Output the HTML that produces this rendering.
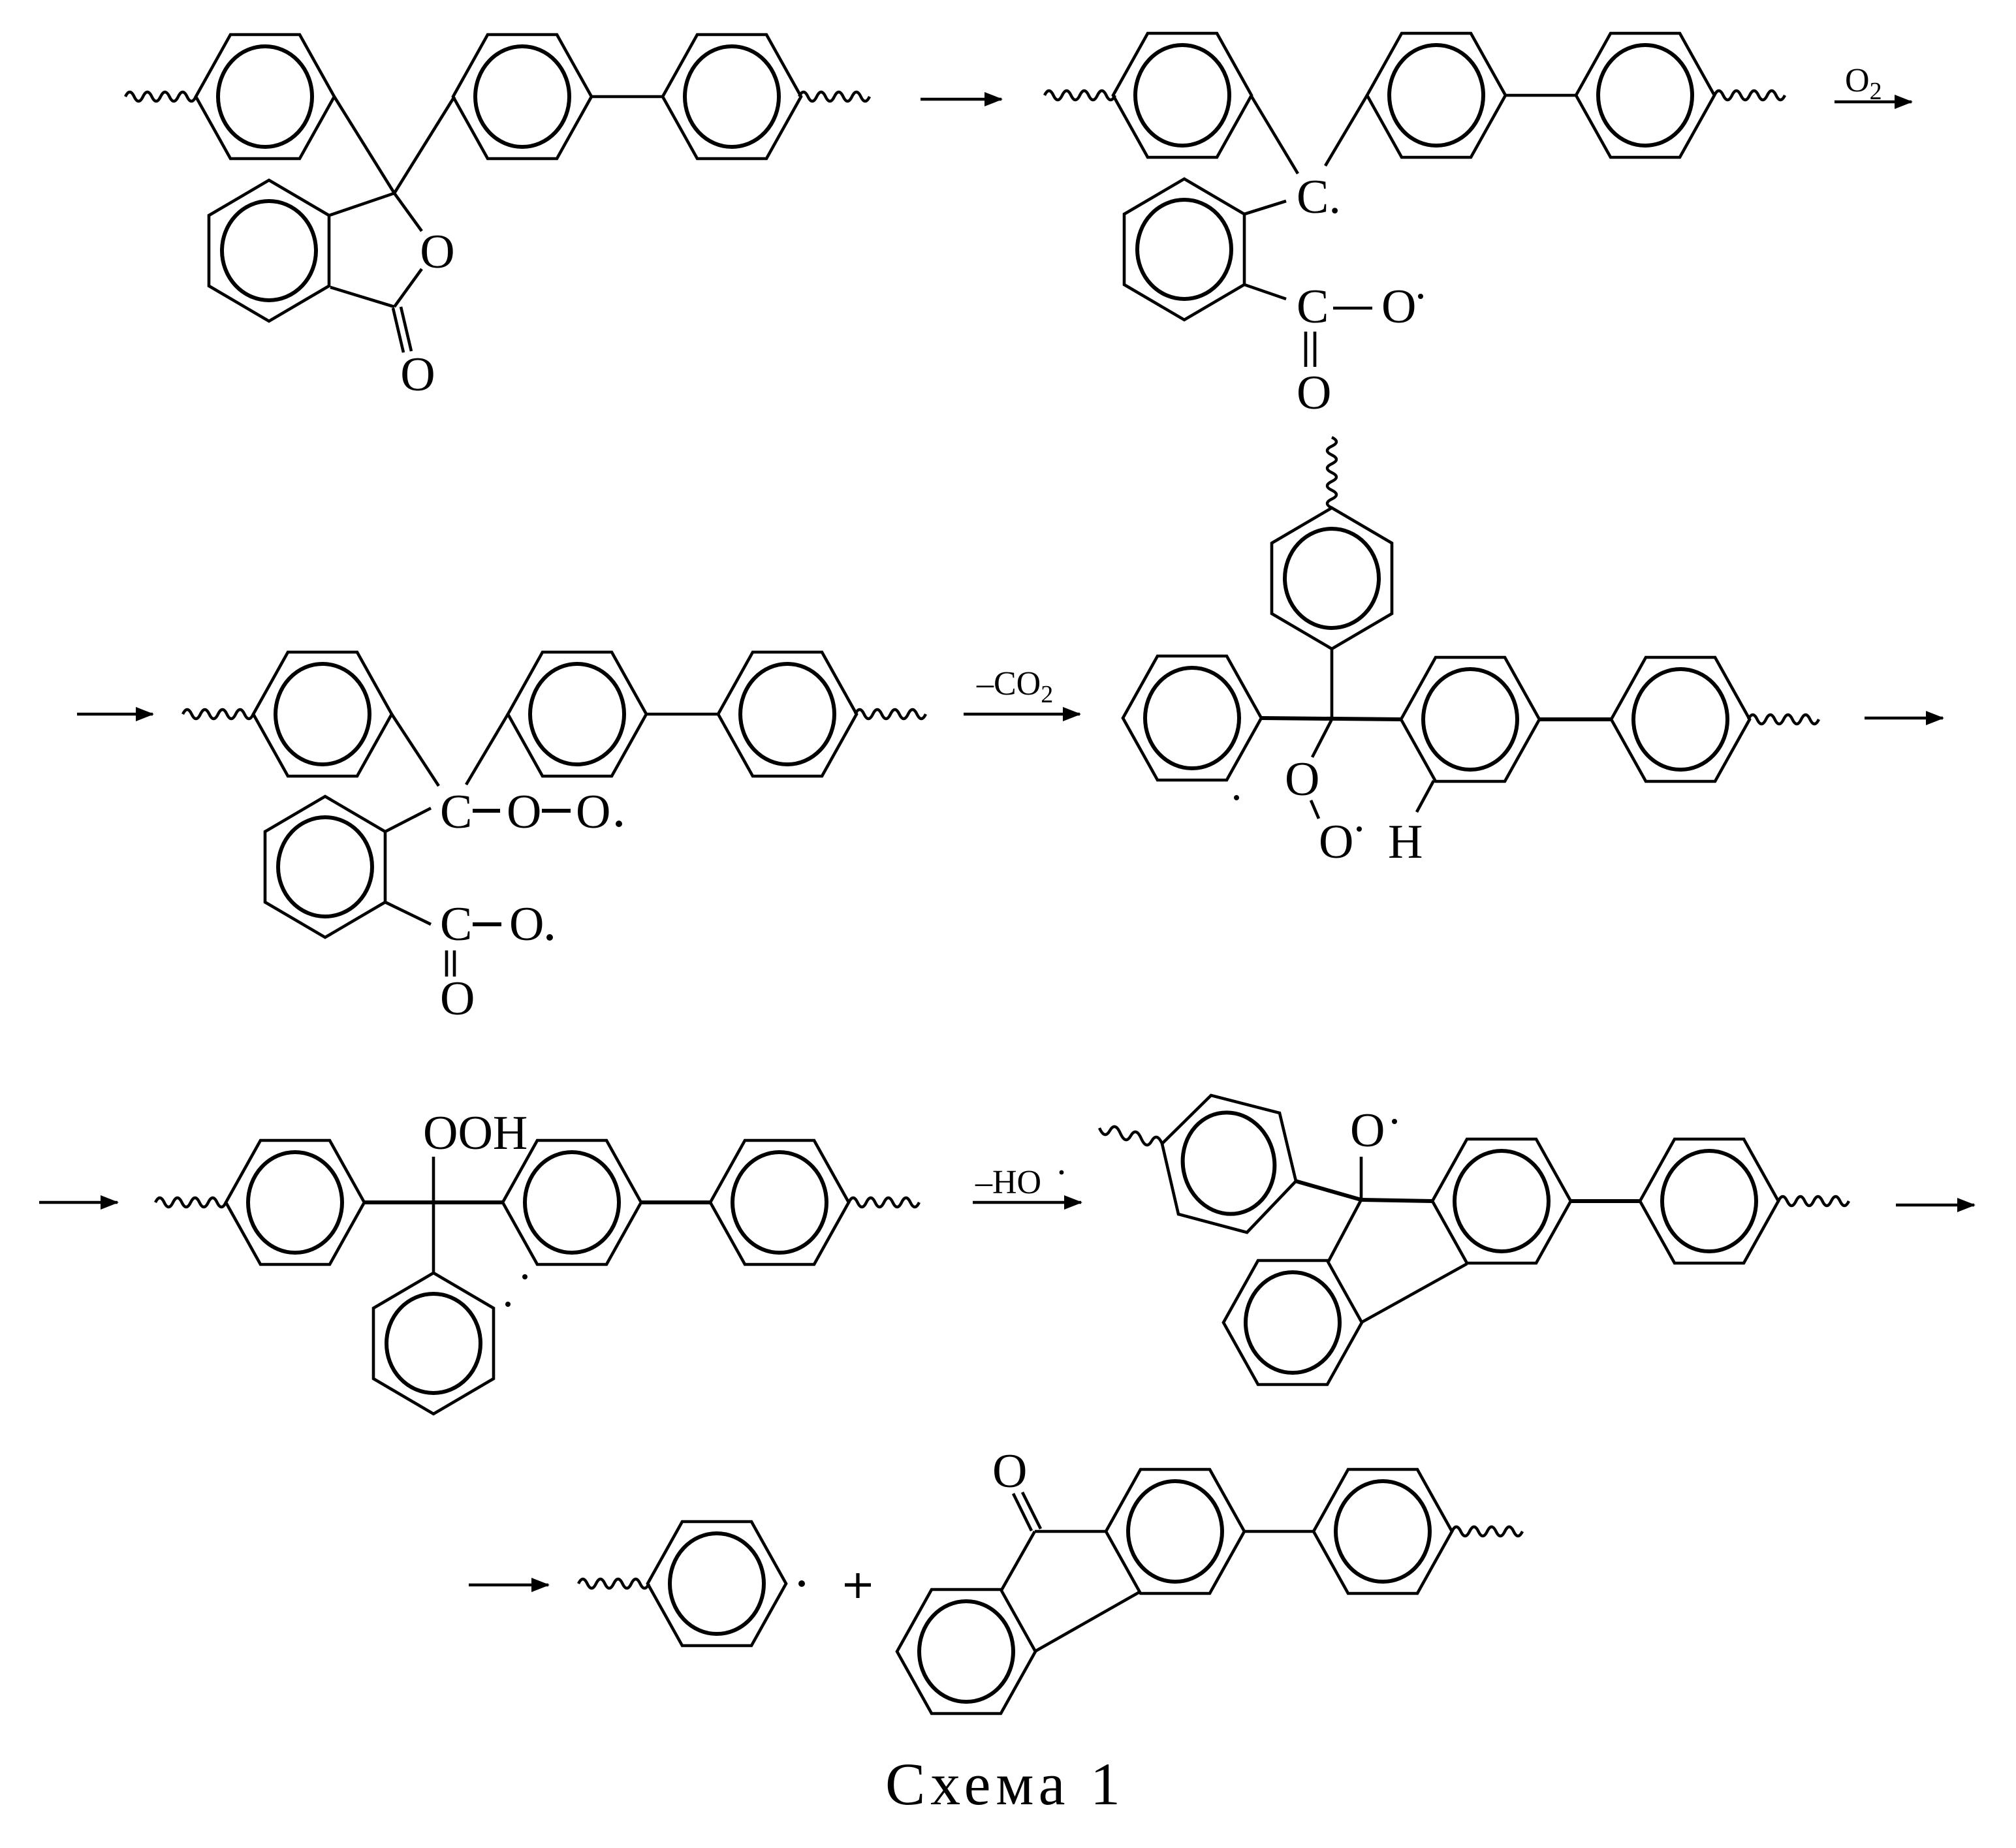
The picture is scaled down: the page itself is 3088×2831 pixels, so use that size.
<!DOCTYPE html>
<html><head><meta charset="utf-8"><style>
html,body{margin:0;padding:0;background:#fff;}
svg{display:block;}
text{font-family:"Liberation Serif",serif;fill:#000;}
</style></head><body>
<svg width="3088" height="2831" viewBox="0 0 1544 1415.5" xmlns="http://www.w3.org/2000/svg">
<defs>
<g id="rf"><polygon points="-53,0 -26.5,-47.5 26.5,-47.5 53,0 26.5,47.5 -26.5,47.5" fill="none" stroke="#000" stroke-width="2.3"/><ellipse cx="0" cy="0" rx="36" ry="38.5" fill="none" stroke="#000" stroke-width="3"/></g>
<g id="rp"><polygon points="0,-54 46,-27 46,27 0,54 -46,27 -46,-27" fill="none" stroke="#000" stroke-width="2.3"/><ellipse cx="0" cy="0" rx="36" ry="38" fill="none" stroke="#000" stroke-width="3"/></g>
<path id="wv" d="M0,0 q3.4,-7 6.75,0 t6.75,0 t6.75,0 t6.75,0 t6.75,0 t6.75,0 t6.75,0 t6.75,0" fill="none" stroke="#000" stroke-width="2.2"/>
<marker id="ah" markerWidth="14" markerHeight="11" refX="13" refY="5.5" orient="auto" markerUnits="userSpaceOnUse"><polygon points="0,0 14,5.5 0,11" fill="#000"/></marker>
</defs>
<g stroke="#000" stroke-width="2.3" fill="none">
<use href="#wv" x="96" y="74"/>
<use href="#rf" x="203" y="74"/><use href="#rf" x="400" y="74"/><use href="#rf" x="560.5" y="74"/>
<use href="#wv" x="612" y="74"/>
<line x1="452" y1="74" x2="508" y2="74"/>
<line x1="256" y1="74" x2="302" y2="148"/><line x1="348" y1="74" x2="302" y2="148"/>
<use href="#rp" x="206" y="192"/>
<line x1="252" y1="165" x2="302" y2="148"/><line x1="302" y1="148" x2="323" y2="177"/>
<line x1="323" y1="206" x2="302" y2="235"/><line x1="302" y1="235" x2="253" y2="220"/>
<line x1="301" y1="236" x2="309" y2="270"/><line x1="307" y1="235" x2="315" y2="269"/>
<line x1="705" y1="76" x2="767" y2="76" marker-end="url(#ah)"/>
<use href="#wv" x="800" y="73"/>
<use href="#rf" x="905.5" y="73"/><use href="#rf" x="1100" y="73"/><use href="#rf" x="1260" y="73"/>
<line x1="1152" y1="73" x2="1208" y2="73"/>
<use href="#wv" x="1313" y="73"/>
<line x1="1405" y1="78" x2="1464" y2="78" marker-end="url(#ah)"/>
<line x1="958" y1="73" x2="994" y2="133"/><line x1="1047" y1="73" x2="1015" y2="127"/>
<use href="#rp" x="907" y="191"/>
<line x1="953" y1="164" x2="985" y2="154"/><line x1="953" y1="218" x2="985" y2="229"/>
<line x1="1021" y1="236" x2="1051" y2="236"/>
<line x1="1000" y1="254" x2="1000" y2="281"/><line x1="1007" y1="254" x2="1007" y2="281"/>
<use href="#wv" transform="translate(1020,335) rotate(90)"/>
<use href="#rp" x="1020" y="443"/>
<line x1="59" y1="547" x2="117" y2="547" marker-end="url(#ah)"/>
<use href="#wv" x="140" y="547"/>
<use href="#rf" x="247" y="547"/><use href="#rf" x="442" y="547"/><use href="#rf" x="603" y="547"/>
<line x1="495" y1="547" x2="551" y2="547"/>
<use href="#wv" x="655" y="547"/>
<line x1="300" y1="547" x2="336" y2="602"/><line x1="389" y1="547" x2="357" y2="601"/>
<line x1="362" y1="621" x2="383" y2="621" stroke-width="3"/><line x1="415" y1="621" x2="437" y2="621" stroke-width="3"/>
<use href="#rp" x="249" y="664"/>
<line x1="295" y1="637" x2="330" y2="619"/><line x1="295" y1="691" x2="330" y2="708"/>
<line x1="362" y1="708" x2="384" y2="708" stroke-width="3"/>
<line x1="342" y1="728" x2="342" y2="748"/><line x1="348" y1="728" x2="348" y2="748"/>
<line x1="738" y1="547" x2="827" y2="547" marker-end="url(#ah)"/>
<use href="#rf" x="913" y="550"/><use href="#rf" x="1126" y="551"/><use href="#rf" x="1287" y="551"/>
<line x1="966" y1="550" x2="1073" y2="551" stroke-width="3"/><line x1="1179" y1="551" x2="1234" y2="551" stroke-width="3"/>
<use href="#wv" x="1339" y="551"/>
<line x1="1428" y1="550" x2="1488" y2="550" marker-end="url(#ah)"/>
<line x1="1020" y1="497" x2="1020" y2="551"/>
<line x1="1020" y1="551" x2="1005" y2="580"/><line x1="1004" y1="613" x2="1010" y2="627"/>
<line x1="1098" y1="598" x2="1085" y2="622"/>
<line x1="30" y1="921" x2="90" y2="921" marker-end="url(#ah)"/>
<use href="#wv" x="119" y="921"/>
<use href="#rf" x="226" y="921"/><use href="#rf" x="438" y="921"/><use href="#rf" x="597" y="921"/>
<line x1="279" y1="921" x2="385" y2="921" stroke-width="3"/><line x1="491" y1="921" x2="544" y2="921" stroke-width="3"/>
<use href="#wv" x="650" y="921"/>
<line x1="332" y1="886" x2="332" y2="975"/>
<use href="#rp" x="332" y="1029"/>
<line x1="745" y1="921" x2="828" y2="921" marker-end="url(#ah)"/>
<polygon points="927.5,839 980,852.5 992.5,904.7 955,944 902.5,930 890,876" stroke-width="2.3"/>
<ellipse cx="941" cy="891" rx="35" ry="39" transform="rotate(-12 941 891)" stroke-width="3"/>
<path d="M890,876 q-4,-9 -8,-2 t-8,-2 t-8,-2 t-8,-2 t-8,-2 t-8,-2" stroke-width="2.2"/>
<line x1="992.5" y1="904.7" x2="1042.5" y2="919" stroke-width="3"/>
<line x1="1042.5" y1="886" x2="1042.5" y2="919"/>
<line x1="1042.5" y1="919" x2="1097.5" y2="920" stroke-width="3"/>
<use href="#rf" x="1150" y="920"/><use href="#rf" x="1309" y="920"/>
<line x1="1203" y1="920" x2="1256" y2="920" stroke-width="3"/>
<use href="#wv" x="1362" y="920"/>
<line x1="1452" y1="923" x2="1512" y2="923" marker-end="url(#ah)"/>
<line x1="1042.5" y1="919" x2="1017.5" y2="966"/>
<use href="#rf" x="990" y="1013"/>
<line x1="1042.5" y1="1013" x2="1123.5" y2="968"/>
<line x1="359" y1="1214" x2="420" y2="1214" marker-end="url(#ah)"/>
<use href="#wv" x="443" y="1213"/>
<use href="#rf" x="549" y="1213"/>
<line x1="647" y1="1214" x2="667" y2="1214" stroke-width="2.6"/><line x1="657" y1="1205" x2="657" y2="1224" stroke-width="2.6"/>
<line x1="776" y1="1144" x2="790" y2="1172.5"/><line x1="783" y1="1143" x2="797" y2="1171"/>
<line x1="792.5" y1="1173" x2="847" y2="1173"/>
<use href="#rf" x="900" y="1173"/><use href="#rf" x="1059" y="1173"/>
<line x1="953" y1="1173" x2="1006" y2="1173"/>
<use href="#wv" x="1112" y="1173"/>
<line x1="792.5" y1="1173" x2="767" y2="1218"/>
<use href="#rf" x="740" y="1265"/>
<line x1="792.5" y1="1265" x2="873.5" y2="1219"/>
</g>
<g fill="#000" stroke="none">
<circle cx="1088" cy="227" r="2"/>
<circle cx="474" cy="631" r="2.5"/><circle cx="421" cy="718" r="2.5"/>
<circle cx="1041" cy="635" r="2"/><circle cx="947" cy="611" r="2"/>
<circle cx="402" cy="978" r="2"/><circle cx="389" cy="999" r="2"/>
<circle cx="1068" cy="859" r="2"/><circle cx="813" cy="898" r="1.7"/>
<circle cx="614" cy="1213" r="2.5"/>
</g>
<g font-size="37">
<text x="335" y="205" text-anchor="middle">O</text>
<text x="320" y="299" text-anchor="middle">O</text>
<text x="993" y="163">C.</text>
<text x="993" y="247">C</text>
<text x="1058" y="247">O</text>
<text x="993" y="313">O</text>
<text x="337" y="634">C</text><text x="388" y="634">O</text><text x="441" y="634">O</text>
<text x="337" y="720">C</text><text x="390" y="720">O</text>
<text x="337" y="777">O</text>
<text x="984" y="609">O</text><text x="1010" y="657">O</text><text x="1063" y="657">H</text>
<text x="324" y="880">OOH</text>
<text x="1034" y="878">O</text>
<text x="760" y="1139">O</text>
</g>
<g font-size="26">
<text x="1413" y="70">O<tspan font-size="19" dy="6">2</tspan></text>
<text x="748" y="532">–CO<tspan font-size="19" dy="6">2</tspan></text>
<text x="747" y="914">–HO</text>
</g>
<text x="678" y="1382" font-size="46" textLength="180" lengthAdjust="spacing">Схема 1</text>
</svg>
</body></html>
